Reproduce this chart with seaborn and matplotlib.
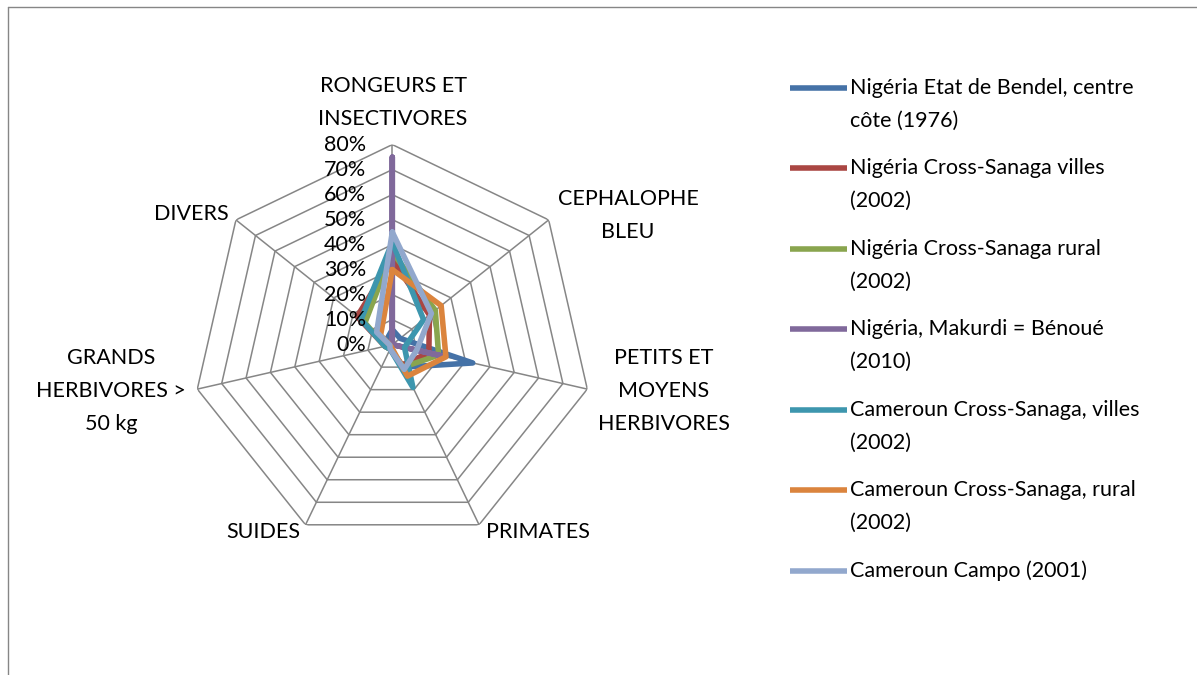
import numpy as np
import pandas as pd
import matplotlib
matplotlib.use("Agg")
import matplotlib.pyplot as plt
from matplotlib.lines import Line2D
import seaborn as sns

# Axes of the radar (clockwise from the top)
categories = [
    "RONGEURS ET\nINSECTIVORES",
    "CEPHALOPHE\nBLEU",
    "PETITS ET\nMOYENS\nHERBIVORES",
    "PRIMATES",
    "SUIDES",
    "GRANDS\nHERBIVORES >\n50 kg",
    "DIVERS",
]

series_names = [
    "Nigéria Etat de Bendel, centre\ncôte (1976)",
    "Nigéria Cross-Sanaga villes\n(2002)",
    "Nigéria Cross-Sanaga rural\n(2002)",
    "Nigéria, Makurdi = Bénoué\n(2010)",
    "Cameroun Cross-Sanaga, villes\n(2002)",
    "Cameroun Cross-Sanaga, rural\n(2002)",
    "Cameroun Campo (2001)",
]

# Share of each animal group in the catch
ng_bendel = [0.06, 0.04, 0.33, 0.10, 0.02, 0.03, 0.03]
ng_cs_villes = [0.34, 0.19, 0.15, 0.09, 0.02, 0.03, 0.18]
ng_cs_rural = [0.37, 0.22, 0.19, 0.10, 0.02, 0.03, 0.14]
ng_makurdi = [0.75, 0.00, 0.20, 0.00, 0.00, 0.00, 0.00]
cm_cs_villes = [0.41, 0.16, 0.05, 0.19, 0.02, 0.03, 0.16]
cm_cs_rural = [0.30, 0.25, 0.22, 0.14, 0.01, 0.01, 0.06]
cm_campo = [0.45, 0.20, 0.10, 0.11, 0.02, 0.01, 0.08]

series_values = [ng_bendel, ng_cs_villes, ng_cs_rural, ng_makurdi,
                 cm_cs_villes, cm_cs_rural, cm_campo]

ring_levels = [0.0, 0.1, 0.2, 0.3, 0.4, 0.5, 0.6, 0.7, 0.8]
ring_labels = ["0%", "10%", "20%", "30%", "40%", "50%", "60%", "70%", "80%"]

colors = ["#4572A7", "#AA4643", "#89A54E", "#80699B",
          "#3D96AE", "#DB843D", "#92A8CD"]
grid_color = "#868686"

sns.set_style("white")
plt.rcParams["font.family"] = ["Lato", "DejaVu Sans"]

W, H = 1197, 675
fig = plt.figure(figsize=(W / 100, H / 100), dpi=100)


def fx(x):
    return x / W


def fy(y):
    return 1 - y / H


cx, cy, R = 392.3, 344.6, 200.0
ax = fig.add_axes([fx(cx - R), fy(cy + R), 2 * R / W, 2 * R / H],
                  projection="polar")
ax.set_theta_zero_location("N")
ax.set_theta_direction(-1)
ax.set_ylim(0, 0.8)
ax.set_axis_off()

n = len(categories)
angles = np.linspace(0, 2 * np.pi, n, endpoint=False)
closed = np.append(angles, angles[0])

# Heptagonal rings and spokes
for r in ring_levels[1:]:
    ax.plot(closed, [r] * (n + 1), color=grid_color, lw=1.1, zorder=1)
for a in angles:
    ax.plot([a, a], [0, 0.8], color=grid_color, lw=1.1, zorder=1)

# Data series
rows = []
for name, vals in zip(series_names, series_values):
    v = list(vals) + [vals[0]]
    for i, (t, val) in enumerate(zip(closed, v)):
        rows.append({"series": name, "theta": t, "value": val, "order": i})
df = pd.DataFrame(rows)

for name, col in zip(series_names, colors):
    sub = df[df["series"] == name]
    sns.lineplot(data=sub, x="theta", y="value", sort=False, estimator=None,
                 color=col, lw=4.0, ax=ax, legend=False, zorder=3,
                 solid_joinstyle="round", solid_capstyle="round")
ax.set_axis_off()

fs = 15.5
line_gap = 33


def multiline(x, y_first, text, ha):
    for k, part in enumerate(text.split("\n")):
        fig.text(fx(x), fy(y_first + k * line_gap), part, ha=ha, va="center",
                 fontsize=fs, color="black")


# Ring value labels along the top spoke
for r, lab in zip(ring_levels, ring_labels):
    fig.text(fx(366), fy(cy - r * R / 0.8), lab, ha="right", va="center",
             fontsize=fs, color="black")

# Category labels (center x, y of first line)
cat_pos = [(393, 86), (628, 199), (664, 358), (538, 532),
           (263, 532), (111, 358), (191, 214)]
for lab, (x, y) in zip(categories, cat_pos):
    multiline(x, y, lab, "center")

# Legend
leg_y = [88, 168, 249, 329, 410, 490, 571]
for name, col, y in zip(series_names, colors, leg_y):
    fig.add_artist(Line2D([fx(790), fx(847)], [fy(y), fy(y)], color=col,
                          lw=4.0, solid_capstyle="butt"))
    multiline(850, y, name, "left")

# Chart frame
fig.add_artist(Line2D([fx(8), fx(8)], [0, fy(7)], color=grid_color, lw=1.0))
fig.add_artist(Line2D([fx(8), 1], [fy(7), fy(7)], color=grid_color, lw=1.0))

fig.savefig("out.png", dpi=100, facecolor="white")
